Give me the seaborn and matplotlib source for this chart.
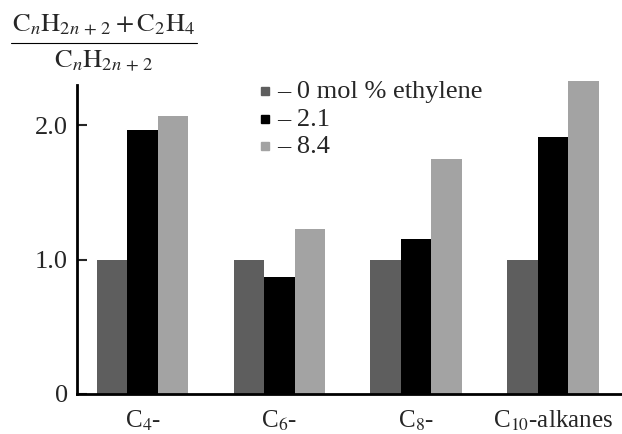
import numpy as np
import pandas as pd
import matplotlib
matplotlib.use("Agg")
import matplotlib.pyplot as plt
import seaborn as sns

# values
groups = [r"C$_4$-", r"C$_6$-", r"C$_8$-", r"C$_{10}$-alkanes"]
series = ["0", "2.1", "8.4"]
vals_0 = [1.00, 1.00, 1.00, 1.00]
vals_21 = [1.96, 0.87, 1.15, 1.91]
vals_84 = [2.07, 1.23, 1.75, 2.33]
legend_labels = ["\u2013 0 mol % ethylene", "\u2013 2.1", "\u2013 8.4"]
colors = ["#5e5e5e", "#000000", "#a3a3a3"]

df = pd.DataFrame({
    "group": groups * 3,
    "series": [s for s in series for _ in groups],
    "ratio": vals_0 + vals_21 + vals_84,
})

sns.set_style("white")
plt.rcParams["font.family"] = ["Liberation Serif", "DejaVu Serif"]
plt.rcParams["mathtext.fontset"] = "stix"

fig = plt.figure(figsize=(6.22, 4.34), dpi=100)
ax = fig.add_axes([77 / 622, 40 / 434, 545 / 622, 316 / 434])

sns.barplot(data=df, x="group", y="ratio", hue="series", palette=colors,
            width=0.67, ax=ax, legend=False, saturation=1)
for p in ax.patches:
    p.set_edgecolor("none")

ax.set_xlim(-0.48, 3.505)
ax.set_ylim(0, 2.35)
ax.set_yticks([0, 1.0, 2.0])
ax.set_yticklabels(["0", "1.0", "2.0"])
ax.set_xlabel("")
ax.set_ylabel("")

for s in ["top", "right"]:
    ax.spines[s].set_visible(False)
for s in ["left", "bottom"]:
    ax.spines[s].set_color("black")
    ax.spines[s].set_linewidth(2)
ax.spines["left"].set_bounds(0, 2.30)
ax.tick_params(axis="y", direction="in", length=7, width=1.5, pad=6.5,
               labelsize=19, left=True)
ax.tick_params(axis="x", length=0, pad=10.5, labelsize=18)

# legend: small squares then text, one row each
row_base = [98, 126, 153]
for c, lab, yb in zip(colors, legend_labels, row_base):
    fig.add_artist(plt.Line2D([265 / 622], [1 - (yb - 7) / 434], marker="s",
                              markersize=5.5, color=c, linestyle="none",
                              transform=fig.transFigure))
    fig.text(277 / 622, 1 - yb / 434, lab, ha="left", va="baseline", fontsize=19)

# fraction label of the y axis
fig.text(104 / 622, 1 - 32 / 434,
         r"$\mathrm{C}_n\mathrm{H}_{2n\,+\,2} + \mathrm{C}_2\mathrm{H}_4$",
         ha="center", va="baseline", fontsize=19)
fig.text(104 / 622, 1 - 68 / 434,
         r"$\mathrm{C}_n\mathrm{H}_{2n\,+\,2}$",
         ha="center", va="baseline", fontsize=19)
fig.add_artist(plt.Line2D([11 / 622, 197 / 622], [1 - 43 / 434, 1 - 43 / 434],
                          transform=fig.transFigure, color="black", lw=0.8))

fig.savefig("out.png", dpi=100)
